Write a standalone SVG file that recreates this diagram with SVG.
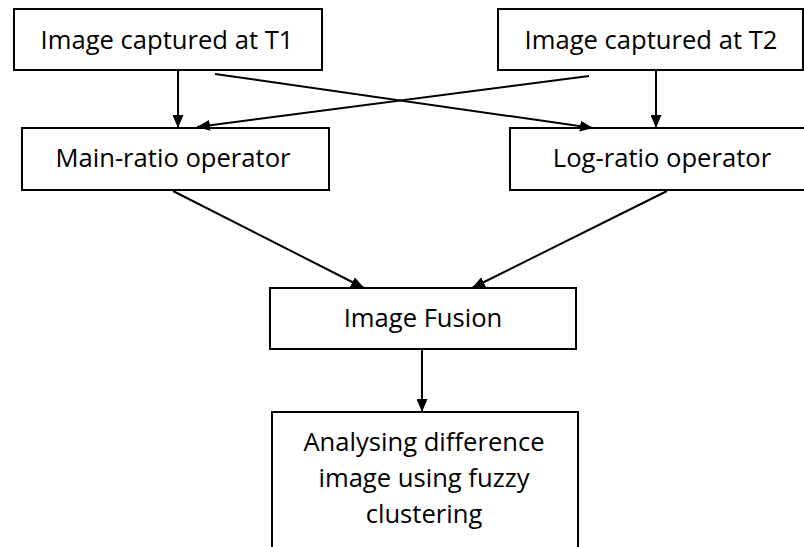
<svg xmlns="http://www.w3.org/2000/svg" width="804" height="547" viewBox="0 0 804 547">
<defs>
<marker id="ah" viewBox="0 0 13 11" refX="13" refY="5.5" markerWidth="13" markerHeight="11" markerUnits="userSpaceOnUse" orient="auto">
<path d="M0,0 L13,5.5 L0,11 Z" fill="#000"/>
</marker>
<style>
.box{fill:#fff;stroke:#000;stroke-width:2}
.t{font-family:"Open Sans","Liberation Sans",sans-serif;font-size:25.6px;fill:#000;text-anchor:middle}
.c{stroke:#000;stroke-width:2;fill:none;marker-end:url(#ah)}
</style>
</defs>
<rect width="804" height="547" fill="#fff"/>
<g id="n1"><rect class="box" x="14" y="9" width="308" height="61"/><text class="t" x="167" y="49">Image captured at T1</text></g>
<g id="n2"><rect class="box" x="498" y="9" width="305" height="61"/><text class="t" x="651" y="49">Image captured at T2</text></g>
<g id="n3"><rect class="box" x="22" y="128" width="307" height="62"/><text class="t" x="173" y="167">Main-ratio operator</text></g>
<g id="n4"><rect class="box" x="510" y="128" width="305" height="62"/><text class="t" x="662" y="167">Log-ratio operator</text></g>
<g id="n5"><rect class="box" x="270" y="288" width="306" height="61"/><text class="t" x="423" y="327">Image Fusion</text></g>
<g id="n6"><rect class="box" x="272" y="412" width="306" height="150"/>
<text class="t" x="424" y="451">Analysing difference</text>
<text class="t" x="424" y="487">image using fuzzy</text>
<text class="t" x="424" y="523">clustering</text></g>
<g id="connectors">
<line class="c" x1="178" y1="70" x2="178" y2="128"/>
<line class="c" x1="656" y1="70" x2="656" y2="128"/>
<line class="c" x1="215" y1="74" x2="593" y2="128"/>
<line class="c" x1="589" y1="76" x2="197" y2="127"/>
<line class="c" x1="173" y1="191" x2="364" y2="288"/>
<line class="c" x1="667" y1="191" x2="472" y2="288"/>
<line class="c" x1="422" y1="349" x2="422" y2="412"/>
</g>
</svg>
